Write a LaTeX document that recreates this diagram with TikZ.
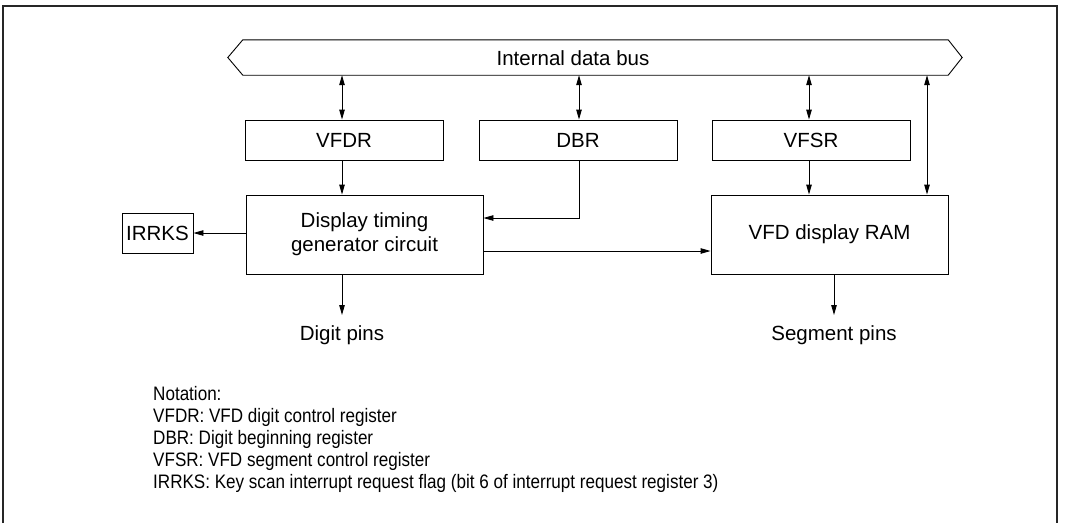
\documentclass[tikz,border=0pt]{standalone}
\usepackage{fontspec}
\setmainfont{Liberation Sans}
\newfontfamily\narrowfont[FakeStretch=0.875]{Liberation Sans}
\usetikzlibrary{arrows.meta,calc}
\begin{document}
\begin{tikzpicture}[x=1pt,y=-1pt,
  box/.style={draw,line width=0.9pt,inner sep=0pt,align=center,font=\fontsize{20.5}{24}\selectfont},
  lbl/.style={inner sep=0pt,anchor=base,font=\fontsize{20.5}{24}\selectfont},
  conn/.style={line width=0.9pt,-{Triangle[length=10pt,width=5.5pt]}},
  bidir/.style={line width=0.9pt,{Triangle[length=10pt,width=5.5pt]}-{Triangle[length=10pt,width=5.5pt]}},
  note/.style={inner sep=0pt,anchor=base west,font=\narrowfont\fontsize{19.5}{22}\selectfont}]
\useasboundingbox (0,0) rectangle (1066,523);
% frame
\draw[line width=1.4pt,black!85] (3,523) -- (3,6) -- (1057,6) -- (1057,523);
% bus
\node[minimum width=705pt,minimum height=35pt,inner sep=0pt] (bus) at (595.5,57.5) {};
\draw[line width=0.9pt] (bus.north west) -- (bus.north east) -- ($(bus.east)+(14,0)$) -- (bus.south east)
  -- (bus.south west) -- ($(bus.west)+(-15,0)$) -- cycle;
\node[inner sep=0pt,font=\fontsize{20.5}{24}\selectfont] (bustext) at (573,58) {Internal data bus};
% registers
\node[box,minimum width=198pt,minimum height=40pt] (vfdr) at (344,140) {VFDR};
\node[box,minimum width=198pt,minimum height=40pt] (dbr) at (578,140) {DBR};
\node[box,minimum width=198pt,minimum height=40pt] (vfsr) at (811,140) {VFSR};
% main blocks
\node[box,minimum width=237pt,minimum height=79pt] (timing) at (364.5,234.5) {Display timing\\generator circuit};
\node[box,minimum width=237pt,minimum height=79pt] (ram) at (829.5,234.5) {VFD display RAM};
\node[box,minimum width=71pt,minimum height=40pt] (irrks) at (157.5,233) {IRRKS};
% pin labels
\coordinate (digtip) at (342,315);
\coordinate (segtip) at (834,315);
\node[lbl] (digit) at (342,340) {Digit pins};
\node[lbl] (seg) at (834,340) {Segment pins};
% bus connections
\draw[bidir] (bus.south -| 342,0) -- (vfdr.north -| 342,0);
\draw[bidir] (bus.south -| 579,0) -- (dbr.north -| 579,0);
\draw[bidir] (bus.south -| 809,0) -- (vfsr.north -| 809,0);
\draw[bidir] (bus.south -| 927,0) -- (ram.north -| 927,0);
% register to blocks
\draw[conn] (vfdr.south -| 342,0) -- (timing.north -| 342,0);
\draw[conn] (vfsr.south -| 809,0) -- (ram.north -| 809,0);
\draw[conn] (dbr.south -| 579,0) -- (579,218) -- (timing.east |- 0,218);
% outputs
\draw[conn] (timing.west |- irrks.east) -- (irrks.east);
\draw[conn] (timing.east |- 0,251) -- (ram.west |- 0,251);
\draw[conn] (timing.south -| 342,0) -- (digtip);
\draw[conn] (ram.south -| 834,0) -- (segtip);
% notation
\node[note] (n0) at (153,400) {Notation:};
\node[note] (n1) at (153,422) {VFDR: VFD digit control register};
\node[note] (n2) at (153,444) {DBR: Digit beginning register};
\node[note] (n3) at (153,466) {VFSR: VFD segment control register};
\node[note] (n4) at (153,488) {IRRKS: Key scan interrupt request flag (bit 6 of interrupt request register 3)};
\end{tikzpicture}
\end{document}
